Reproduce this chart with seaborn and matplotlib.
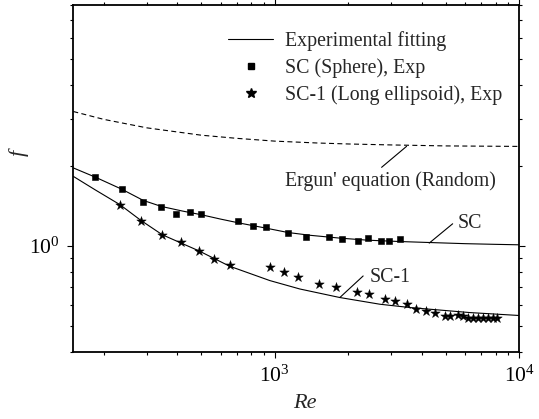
import numpy as np
import pandas as pd
import matplotlib
matplotlib.use("Agg")
import matplotlib.pyplot as plt
import seaborn as sns
from matplotlib.lines import Line2D
from matplotlib.ticker import NullFormatter, LogLocator

# ---------------- data ----------------
sc_re = [184.5, 237, 290, 344, 396, 449, 501, 710, 815, 919, 1133, 1348,
         1659, 1881, 2187, 2403, 2716, 2937, 3258]
sc_f = [1.813, 1.638, 1.464, 1.402, 1.316, 1.334, 1.316, 1.234, 1.182, 1.176,
        1.116, 1.084, 1.084, 1.060, 1.047, 1.069, 1.047, 1.047, 1.060]

sc1_re = [233, 283, 347, 413, 490, 565, 653, 958, 1091, 1245, 1514, 1782,
          2166, 2426, 2829, 3099, 3486, 3778, 4167, 4527, 4966, 5204, 5627,
          5866, 6184, 6482, 6795, 7123, 7466, 7828, 8105]
sc1_f = [1.426, 1.242, 1.098, 1.031, 0.959, 0.891, 0.850, 0.832, 0.800, 0.761,
         0.720, 0.698, 0.670, 0.657, 0.630, 0.620, 0.603, 0.579, 0.571, 0.561,
         0.547, 0.547, 0.549, 0.547, 0.538, 0.538, 0.538, 0.538, 0.538, 0.538,
         0.538]

sc_fit_re = [150, 184.5, 237, 290, 344, 420, 501, 600, 719, 900, 1133, 1400,
             1845, 2400, 3249, 4311, 6000, 8000, 10000]
sc_fit_f = [1.96, 1.81, 1.63, 1.48, 1.405, 1.35, 1.308, 1.26, 1.217, 1.17,
            1.122, 1.095, 1.069, 1.05, 1.038, 1.029, 1.019, 1.013, 1.009]

sc1_fit_re = [150, 184.5, 233, 283, 347, 489, 653, 954, 1266, 1845, 2691,
              3569, 6284, 10000]
sc1_fit_f = [1.822, 1.621, 1.426, 1.247, 1.100, 0.958, 0.839, 0.741, 0.689,
             0.640, 0.604, 0.587, 0.562, 0.548]

ergun_re = [150, 200, 300, 500, 700, 1000, 1500, 2000, 3000, 5000, 7000, 10000]
ergun_f = [3.19, 2.98, 2.77, 2.60, 2.53, 2.47, 2.43, 2.41, 2.39, 2.37, 2.365, 2.36]

legend_labels = ["Experimental fitting", "SC (Sphere), Exp",
                 "SC-1 (Long ellipsoid), Exp"]

# ---------------- style ----------------
sns.set_theme(style="ticks")
plt.rcParams["font.family"] = ["Liberation Serif", "DejaVu Serif"]
plt.rcParams["mathtext.fontset"] = "custom"
plt.rcParams["mathtext.rm"] = "Liberation Serif"
plt.rcParams["mathtext.it"] = "Liberation Serif:italic"

FS = 14.3

fig = plt.figure(figsize=(5.39, 4.19), dpi=100)
ax = fig.add_axes([0.136, 0.160, 0.8275, 0.828])

sns.lineplot(x=ergun_re, y=ergun_f, ax=ax, color="black", lw=0.8,
             estimator=None, sort=False)
ax.lines[-1].set_dashes((4.5, 3))
sns.lineplot(x=sc_fit_re, y=sc_fit_f, ax=ax, color="black", lw=0.8,
             estimator=None, sort=False)
sns.lineplot(x=sc1_fit_re, y=sc1_fit_f, ax=ax, color="black", lw=0.8,
             estimator=None, sort=False)
sns.scatterplot(x=sc_re, y=sc_f, ax=ax, marker="s", s=24, color="black",
                edgecolor="black", linewidth=0.4, zorder=3)
sns.scatterplot(x=sc1_re, y=sc1_f, ax=ax, marker="*", s=52, color="black",
                edgecolor="black", linewidth=0.3, zorder=3)

ax.set_xscale("log")
ax.set_yscale("log")
ax.set_xlim(150, 10000)
ax.set_ylim(0.4, 8)

for sp in ax.spines.values():
    sp.set_linewidth(1.3)
    sp.set_color("black")

ax.yaxis.set_minor_locator(LogLocator(base=10, subs=np.arange(2, 10)))
ax.xaxis.set_minor_locator(LogLocator(base=10, subs=np.arange(2, 10)))
ax.xaxis.set_minor_formatter(NullFormatter())
ax.yaxis.set_minor_formatter(NullFormatter())
ax.tick_params(which="both", direction="out", top=True, right=True,
               labeltop=False, labelright=False, color="black", width=0.8,
               labelsize=15.5, labelcolor="black")
ax.tick_params(which="major", length=4.0, pad=6)
ax.tick_params(which="minor", length=2.0)

ax.set_xlabel("Re", fontsize=16, fontstyle="italic")
ax.set_ylabel("f", fontsize=16, fontstyle="italic")
ax.xaxis.set_label_coords(0.52, -0.122)
ax.yaxis.set_label_coords(-0.10, 0.573)

# legend
handles = [Line2D([], [], color="black", lw=0.8),
           Line2D([], [], color="black", marker="s", ls="none", markersize=4.9),
           Line2D([], [], color="black", marker="*", ls="none", markersize=7.2)]
ax.legend(handles, legend_labels, loc="upper left",
          bbox_to_anchor=(0.347, 0.925), frameon=False, borderaxespad=0,
          borderpad=0, handlelength=2.27, handletextpad=0.6,
          labelspacing=0.36, prop={"size": FS})

# annotations
line_kw = dict(arrowstyle="-", color="black", lw=0.8, shrinkA=0, shrinkB=0)
ax.annotate("", xy=(3460, 2.362), xytext=(2734, 1.970), arrowprops=line_kw)
ax.text(1099, 1.671, "Ergun' equation (Random)", fontsize=FS,
        ha="left", va="baseline")
ax.annotate("", xy=(4281, 1.024), xytext=(5338, 1.210), arrowprops=line_kw)
ax.text(5611, 1.166, "SC", fontsize=FS, ha="left", va="baseline")
ax.annotate("", xy=(1845, 0.640), xytext=(2298, 0.771), arrowprops=line_kw)
ax.text(2448, 0.734, "SC-1", fontsize=FS, ha="left", va="baseline")

fig.savefig("out.png", dpi=100)
